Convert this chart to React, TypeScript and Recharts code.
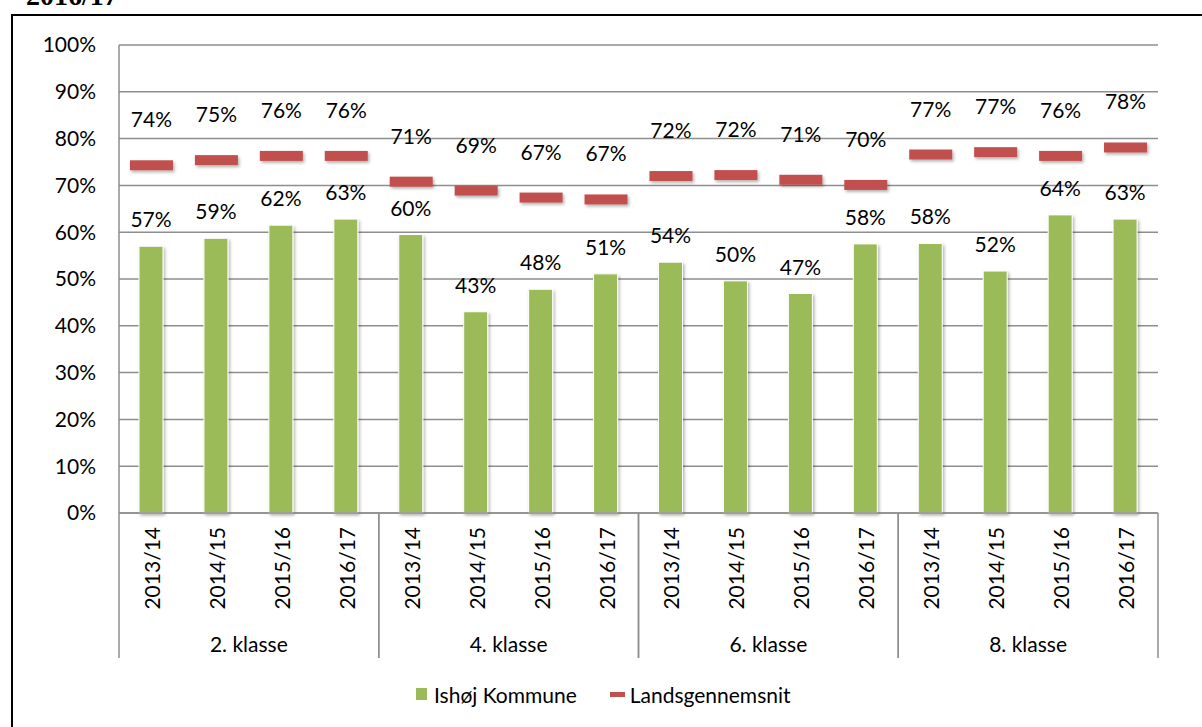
import React from 'react'
import {
  ComposedChart,
  Bar,
  Line,
  XAxis,
  YAxis,
  CartesianGrid,
  LabelList,
  Legend,
} from 'recharts'

// tick labels / categories
const years = [
  '2013/14', '2014/15', '2015/16', '2016/17',
  '2013/14', '2014/15', '2015/16', '2016/17',
  '2013/14', '2014/15', '2015/16', '2016/17',
  '2013/14', '2014/15', '2015/16', '2016/17',
]
const groups = [
  '2. klasse', '2. klasse', '2. klasse', '2. klasse',
  '4. klasse', '4. klasse', '4. klasse', '4. klasse',
  '6. klasse', '6. klasse', '6. klasse', '6. klasse',
  '8. klasse', '8. klasse', '8. klasse', '8. klasse',
]
const yTicks = [0, 10, 20, 30, 40, 50, 60, 70, 80, 90, 100]

// series (percent)
const ishoj = [57, 58.7, 61.5, 62.8, 59.5, 43, 47.8, 51.1, 53.6, 49.6, 46.9, 57.5, 57.6, 51.7, 63.7, 62.8]
const lands = [74.3, 75.4, 76.3, 76.3, 70.8, 68.9, 67.4, 67, 72, 72.2, 71.2, 70.1, 76.6, 77.1, 76.3, 78.1]

const seriesNames = { ishoj: 'Ishøj Kommune', lands: 'Landsgennemsnit' }

const data = years.map((y, i) => ({
  year: y,
  group: groups[i],
  ishoj: ishoj[i],
  lands: lands[i],
}))

const GREEN = '#9BBB59'
const RED = '#C0504D'
const GRID = '#8e8e8e'
const FONT = 'Lato, "Open Sans", sans-serif'
const FS = 21

const pct = (v: number) => `${Math.round(v)}%`

const YearTick = (props: any) => {
  const { x, y, payload } = props
  return (
    <text
      x={x}
      y={y}
      transform={`rotate(-90, ${x}, ${y})`}
      textAnchor="end"
      dominantBaseline="central"
      fontSize={FS}
      fontFamily={FONT}
      fill="#000"
    >
      {payload.value}
    </text>
  )
}

const GroupTick = (props: any) => {
  const { x, y, payload } = props
  const half = payload.offset || 1039 / 8
  return (
    <g>
      <line x1={x - half} x2={x - half} y1={y - 130} y2={y + 15} stroke={GRID} strokeWidth={1.5} />
      <line x1={x + half} x2={x + half} y1={y - 130} y2={y + 15} stroke={GRID} strokeWidth={1.5} />
      <text x={x} y={y} textAnchor="middle" dominantBaseline="central" fontSize={FS} fontFamily={FONT} fill="#000">
        {payload.value}
      </text>
    </g>
  )
}

const Dash = (props: any) => {
  const { cx, cy } = props
  if (cx == null || cy == null) return null
  return <rect x={cx - 21.5} y={cy - 5} width={43} height={10} fill={RED} filter="url(#shadow)" />
}

const BarLabel = (props: any) => {
  const { x, y, width, value } = props
  return (
    <text x={x + width / 2} y={y - 19} textAnchor="middle" fontSize={FS} fontFamily={FONT} fill="#000">
      {pct(value)}
    </text>
  )
}

const DashLabel = (props: any) => {
  const { x, y, value } = props
  return (
    <text x={x} y={y - 38} textAnchor="middle" fontSize={FS} fontFamily={FONT} fill="#000">
      {pct(value)}
    </text>
  )
}

const LegendContent = () => (
  <div
    style={{
      display: 'flex',
      alignItems: 'center',
      height: 52,
      paddingLeft: 416,
      fontFamily: FONT,
      fontSize: FS,
      color: '#000',
    }}
  >
    <span style={{ width: 11, height: 12, background: GREEN, display: 'inline-block', marginRight: 7 }} />
    <span>{seriesNames.ishoj}</span>
    <span style={{ width: 15, height: 5, background: RED, display: 'inline-block', marginLeft: 33, marginRight: 5 }} />
    <span>{seriesNames.lands}</span>
  </div>
)

export default function App() {
  return (
    <div style={{ position: 'absolute', left: 0, top: 0, width: 1202, height: 727, background: '#fff', overflow: 'hidden' }}>
      <svg width={0} height={0} style={{ position: 'absolute' }}>
        <defs>
          <filter id="shadow" x="-20%" y="-40%" width="150%" height="200%">
            <feDropShadow dx={1.5} dy={2} stdDeviation={1.5} floodColor="#000" floodOpacity={0.3} />
          </filter>
        </defs>
      </svg>
      <div
        style={{
          position: 'absolute',
          left: 26,
          top: -18.5,
          fontFamily: '"Liberation Serif", serif',
          fontWeight: 'bold',
          fontSize: 28,
          lineHeight: '28px',
        }}
      >
        2016/17
      </div>
      <div
        style={{
          position: 'absolute',
          left: 11,
          top: 14,
          width: 1300,
          height: 800,
          borderLeft: '2px solid #000',
          borderTop: '2px solid #000',
        }}
      />
      <div style={{ position: 'absolute', left: 0, top: 0 }}>
        <ComposedChart
          width={1202}
          height={727}
          data={data}
          margin={{ top: 45, right: 44, left: 19, bottom: 7 }}
          barCategoryGap={0}
        >
          <CartesianGrid xAxisId="a_year" vertical={false} stroke={GRID} strokeWidth={1.5} />
          <YAxis
            domain={[0, 100]}
            ticks={yTicks}
            tickFormatter={(v: number) => `${v}%`}
            width={100}
            axisLine={{ stroke: GRID, strokeWidth: 1.5 }}
            tickLine={false}
            tickSize={0}
            tickMargin={23}
            tick={{ fontSize: FS, fontFamily: FONT, fill: '#000' }}
            interval={0}
          />
          <XAxis
            xAxisId="a_year"
            dataKey="year"
            height={105}
            interval={0}
            axisLine={{ stroke: GRID, strokeWidth: 1.5 }}
            tickLine={false}
            tickSize={0}
            tickMargin={14}
            tick={<YearTick />}
          />
          <XAxis
            xAxisId="b_group"
            dataKey="group"
            allowDuplicatedCategory={false}
            height={50}
            interval={0}
            axisLine={false}
            tickLine={false}
            tickSize={0}
            tickMargin={25}
            tick={<GroupTick />}
          />
          <Legend verticalAlign="bottom" height={52} wrapperStyle={{ left: 0, width: 1202 }} content={<LegendContent />} />
          <Bar
            xAxisId="a_year"
            dataKey="ishoj"
            name={seriesNames.ishoj}
            fill={GREEN}
            stroke="#fff"
            strokeWidth={1}
            barSize={24}
            filter="url(#shadow)"
            isAnimationActive={false}
          >
            <LabelList dataKey="ishoj" content={<BarLabel />} />
          </Bar>
          <Line
            xAxisId="a_year"
            dataKey="lands"
            name={seriesNames.lands}
            stroke="none"
            dot={<Dash />}
            activeDot={false}
            isAnimationActive={false}
          >
            <LabelList dataKey="lands" content={<DashLabel />} />
          </Line>
        </ComposedChart>
      </div>
    </div>
  )
}
